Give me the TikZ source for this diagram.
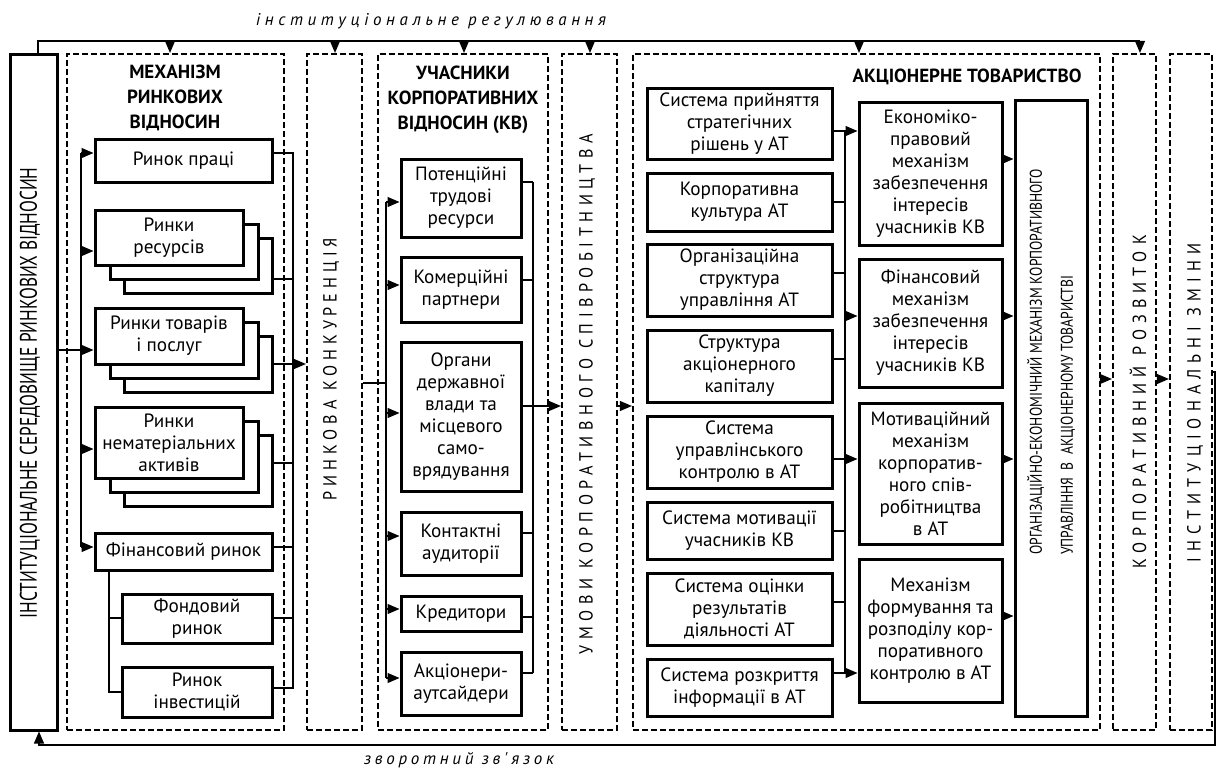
\documentclass[tikz,border=0pt]{standalone}
\usepackage{fontspec}
\setmainfont{PT Sans}
\newfontfamily\isfont[FakeStretch=0.72]{PT Sans}
\newfontfamily\oefont[FakeStretch=0.8]{PT Sans}
\newfontfamily\colfont[FakeStretch=0.85]{PT Sans}
\newfontfamily\notefont{PT Sans}
\usetikzlibrary{positioning,fit,calc,arrows.meta}

\begin{document}
\begin{tikzpicture}[x=0.5pt,y=-0.5pt]

\tikzstyle{zone}=[draw, line width=1.1pt, dash pattern=on 3pt off 1.5pt, inner sep=0pt]
\tikzstyle{box}=[draw, line width=1.5pt, inner sep=0pt, align=center, fill=white, font=\fontsize{9.6}{11}\selectfont]
\tikzstyle{ttl}=[inner sep=0pt, align=center, font=\bfseries\fontsize{9.5}{12.5}\selectfont]
\tikzstyle{vlabel}=[inner sep=0pt, rotate=90]
\tikzstyle{note}=[inner sep=0pt]

\tikzstyle{wire}=[line width=0.55pt]
\tikzstyle{arr}=[line width=0.55pt, -{Triangle[length=6pt,width=5pt]}]

\useasboundingbox (0,0) rectangle (1217,771);

\node[zone, fit={(67,54)(284,730)}] (ZM) {};
\node[zone, fit={(307,54)(362,730)}] (ZR) {};
\node[zone, fit={(378,54)(548,730)}] (ZU) {};
\node[zone, fit={(562,54)(617,730)}] (ZV) {};
\node[zone, fit={(633,54)(1100,730)}] (ZA) {};
\node[zone, fit={(1113,54)(1156,730)}] (ZK) {};
\node[zone, fit={(1170,54)(1212,730)}] (ZI) {};
\node[box, minimum width=23.5pt, minimum height=338pt] (IS) at (33.5,392) {};

\node[inner sep=0pt, rotate=90, font=\isfont\fontsize{12}{14}\selectfont] (ISt) at (30,393) {ІНСТИТУЦІОНАЛЬНЕ СЕРЕДОВИЩЕ РИНКОВИХ ВІДНОСИН};
\node[vlabel, font=\colfont\addfontfeature{LetterSpace=26}\fontsize{9.5}{11}\selectfont] (ZRt) at (331,369) {РИНКОВА КОНКУРЕНЦІЯ};
\node[vlabel, font=\colfont\addfontfeature{LetterSpace=29.5}\fontsize{9.5}{11}\selectfont] (ZVt) at (587,394) {УМОВИ КОРПОРАТИВНОГО СПІВРОБІТНИЦТВА};
\node[vlabel, font=\colfont\addfontfeature{LetterSpace=32}\fontsize{9.5}{11}\selectfont] (ZKt) at (1138,402) {КОРПОРАТИВНИЙ РОЗВИТОК};
\node[vlabel, font=\colfont\addfontfeature{LetterSpace=32}\fontsize{9.5}{11}\selectfont] (ZIt) at (1195,403) {ІНСТИТУЦІОНАЛЬНІ ЗМІНИ};

\node[ttl] (ZMt) at (175,98) {МЕХАНІЗМ\\РИНКОВИХ\\ВІДНОСИН};
\node[ttl] (ZUt) at (463,100) {УЧАСНИКИ\\КОРПОРАТИВНИХ\\ВІДНОСИН (КВ)};
\node[ttl] (ZAt) at (967,77) {АКЦІОНЕРНЕ ТОВАРИСТВО};

\node[note, font=\notefont\itshape\addfontfeature{LetterSpace=27}\fontsize{8.5}{10}\selectfont] (reg) at (431,21) {інституціональне регулювання};
\node[note, font=\notefont\itshape\addfontfeature{LetterSpace=22}\fontsize{8.5}{10}\selectfont] (fbk) at (459,760) {зворотний зв'язок};

\node[box, minimum width=88.5pt, minimum height=21.5pt] (M1) at (183.5,160.5) {Ринок праці};
\node[box, minimum width=74pt, minimum height=27.5pt] (M2c) at (198,265.5) {};
\node[box, minimum width=74pt, minimum height=27.5pt] (M2b) at (184,251.5) {};
\node[box, minimum width=74pt, minimum height=27.5pt] (M2) at (169,237.5) {Ринки\\ресурсів};
\node[box, minimum width=74pt, minimum height=28pt] (M3c) at (198,364) {};
\node[box, minimum width=74pt, minimum height=28pt] (M3b) at (184,350) {};
\node[box, minimum width=74pt, minimum height=28pt] (M3) at (169,336) {Ринки товарів\\і послуг};
\node[box, minimum width=74pt, minimum height=35.5pt] (M4c) at (198,470.5) {};
\node[box, minimum width=74pt, minimum height=35.5pt] (M4b) at (184,456.5) {};
\node[box, minimum width=74pt, minimum height=35.5pt] (M4) at (169,442.5) {Ринки\\нематеріальних\\активів};
\node[box, minimum width=88.5pt, minimum height=18.5pt] (M5) at (183.5,551.5) {Фінансовий ринок};
\node[box, minimum width=75pt, minimum height=24.5pt] (M6) at (197,618.5) {Фондовий\\ринок};
\node[box, minimum width=75pt, minimum height=25pt] (M7) at (197,692) {Ринок\\інвестицій};

\node[box, minimum width=60pt, minimum height=39pt] (U1) at (461,198) {Потенційні\\трудові\\ресурси};
\node[box, minimum width=60pt, minimum height=32.5pt] (U2) at (461,289.5) {Комерційні\\партнери};
\node[box, minimum width=60pt, minimum height=74.5pt] (U3) at (461,416.5) {Органи\\державної\\влади та\\місцевого\\само-\\врядування};
\node[box, minimum width=60pt, minimum height=31.5pt] (U4) at (461,543.5) {Контактні\\аудиторії};
\node[box, minimum width=60pt, minimum height=17.5pt] (U5) at (461,613.5) {Кредитори};
\node[box, minimum width=60pt, minimum height=31.5pt] (U6) at (461,683.5) {Акціонери-\\аутсайдери};

\node[box, minimum width=92.5pt, minimum height=35.5pt] (A1) at (739.5,123.5) {Система прийняття\\стратегічних\\рішень у АТ};
\node[box, minimum width=92.5pt, minimum height=29pt] (A2) at (739.5,202) {Корпоративна\\культура АТ};
\node[box, minimum width=92.5pt, minimum height=36pt] (A3) at (739.5,280) {Організаційна\\структура\\управління АТ};
\node[box, minimum width=92.5pt, minimum height=36pt] (A4) at (739.5,366) {Структура\\акціонерного\\капіталу};
\node[box, minimum width=92.5pt, minimum height=36pt] (A5) at (739.5,452) {Система\\управлінського\\контролю в АТ};
\node[box, minimum width=92.5pt, minimum height=28.5pt] (A6) at (739.5,530.5) {Система мотивації\\учасників КВ};
\node[box, minimum width=92.5pt, minimum height=36pt] (A7) at (739.5,609) {Система оцінки\\результатів\\діяльності АТ};
\node[box, minimum width=92.5pt, minimum height=28.5pt] (A8) at (739.5,687.5) {Система розкриття\\інформації в АТ};

\node[box, minimum width=71.5pt, minimum height=71.5pt] (B1) at (930.5,173.5) {Економіко-\\правовий\\механізм\\забезпечення\\інтересів\\учасників КВ};
\node[box, minimum width=71.5pt, minimum height=64pt] (B2) at (930.5,323) {Фінансовий\\механізм\\забезпечення\\інтересів\\учасників КВ};
\node[box, minimum width=71.5pt, minimum height=70.5pt] (B3) at (930.5,473.5) {Мотиваційний\\механізм\\корпоратив-\\ного спів-\\робітництва\\в АТ};
\node[box, minimum width=71.5pt, minimum height=71.5pt] (B4) at (930.5,630.5) {Механізм\\формування та\\розподілу кор-\\поративного\\контролю в АТ};

\node[box, minimum width=36pt, minimum height=308pt] (OE) at (1051,408) {};
\node[inner sep=0pt, rotate=90, align=left, font=\oefont\fontsize{8.5}{15.5}\selectfont] (OEt) at (1051,362) {ОРГАНІЗАЦІЙНО-ЕКОНОМІЧНИЙ МЕХАНІЗМ КОРПОРАТИВНОГО\\УПРАВЛІННЯ\ \ В\ \ АКЦІОНЕРНОМУ ТОВАРИСТВІ};

\coordinate (tl) at (38,41);
\coordinate (tr) at (1140,41);
\draw[wire] (IS.north -| tl) -- (tl) -- (tr);
\draw[arr] (tr) -- (ZK.north -| tr);
\foreach \z/\x in {ZM/170, ZR/335, ZU/464, ZV/590, ZA/859}
  \draw[arr] (\x,41) -- (\z.north -| \x,0);

\coordinate (fb) at (1215,745);
\draw[arr] (ZI.east |- 0,372) -| (fb) -- (fb -| 39,0) -- (IS.south -| 39,0);

\coordinate (mLt) at (81,153);
\coordinate (mLb) at (81,547);
\draw[wire] (mLt) -- (mLb);
\draw[arr] (mLt) -- (M1.west |- mLt);
\draw[arr] (mLt |- 0,251) -- (M2.west |- 0,251);
\draw[arr] (IS.east |- 0,350) -- (M3.west |- 0,350);
\draw[arr] (mLt |- 0,449) -- (M4.west |- 0,449);
\draw[arr] (mLb) -- (M5.west |- mLb);
\draw[wire] (M5.south -| 109,0) |- (M7.west |- 0,692);
\draw[wire] (109,618) -- (M6.west |- 0,618);

\coordinate (mRt) at (293,153);
\coordinate (mRb) at (293,688);
\draw[wire] (M1.east |- mRt) -- (mRt) -- (mRb) -- (M7.east |- mRb);
\foreach \n/\y in {M2c/279, M4c/463, M5/547, M6/618}
  \draw[wire] (\n.east |- 0,\y) -- (mRt |- 0,\y);
\draw[arr] (M3c.east |- 0,364) -- (ZR.west |- 0,364);

\coordinate (uLt) at (386,202);
\coordinate (uLb) at (386,678);
\draw[wire] (ZR.east |- 0,383) -- (uLt |- 0,383);
\draw[wire] (uLt) -- (uLb);
\foreach \n/\y in {U1/202, U2/285, U3/413, U4/536, U5/609, U6/678}
  \draw[arr] (uLt |- 0,\y) -- (\n.west |- 0,\y);
\coordinate (uRt) at (533,182);
\coordinate (uRb) at (533,673);
\draw[wire] (uRt) -- (uRb);
\foreach \n/\y in {U1/182, U2/280, U4/533, U5/617, U6/673}
  \draw[wire] (\n.east |- 0,\y) -- (uRt |- 0,\y);
\draw[arr] (U3.east |- 0,406) -- (ZV.west |- 0,406);
\draw[arr] (ZV.east |- 0,406) -- (ZA.west |- 0,406);

\coordinate (aRt) at (845,131);
\coordinate (aRb) at (845,673);
\draw[wire] (aRt) -- (aRb);
\foreach \n/\y in {A2/202, A3/273, A4/359, A6/531, A7/602}
  \draw[wire] (\n.east |- 0,\y) -- (aRt |- 0,\y);
\draw[arr] (A1.east |- aRt) -- (B1.west |- aRt);
\draw[arr] (aRt |- 0,316) -- (B2.west |- 0,316);
\draw[arr] (A5.east |- 0,459) -- (B3.west |- 0,459);
\draw[arr] (A8.east |- aRb) -- (B4.west |- aRb);
\foreach \n/\y in {B1/159, B2/316, B3/459, B4/616}
  \draw[arr] (\n.east |- 0,\y) -- (OE.west |- 0,\y);

\draw[arr] (ZA.east |- 0,379) -- (ZK.west |- 0,379);
\draw[arr] (ZK.east |- 0,379) -- (ZI.west |- 0,379);

\end{tikzpicture}
\end{document}
